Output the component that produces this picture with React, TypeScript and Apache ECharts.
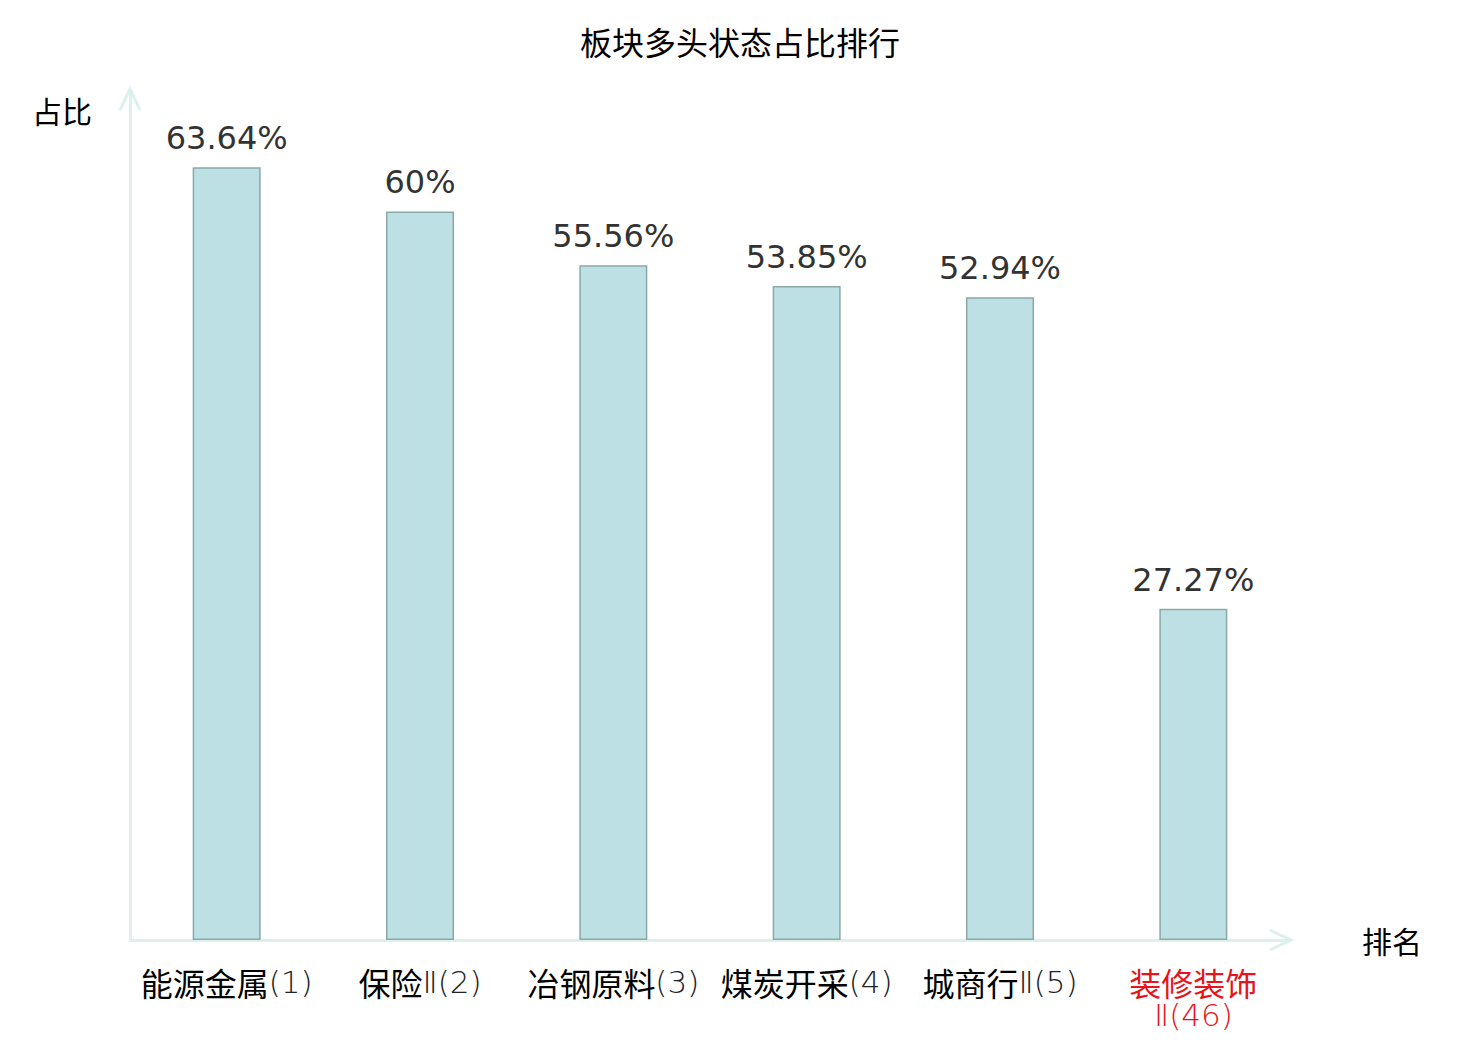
import React, { useEffect, useRef } from "react";
import * as echarts from "echarts";

const categories = ["能源金属(1)", "保险Ⅱ(2)", "冶钢原料(3)", "煤炭开采(4)", "城商行Ⅱ(5)", "装修装饰Ⅱ(46)"];
const values = [63.64, 60, 55.56, 53.85, 52.94, 27.27];
const highlighted = ["装修装饰Ⅱ(46)"];

const FONT = "'DejaVu Sans', 'Noto Sans CJK SC', sans-serif";
const CJK = "'Noto Sans CJK SC', sans-serif";
const AXIS_COLOR = "#dcf1ee";
const RED = "#e8141b";

export default function App() {
  const ref = useRef<HTMLDivElement>(null);
  useEffect(() => {
    if (!ref.current) return;
    const chart = echarts.init(ref.current, null, { renderer: "svg" });
    const gridLeft = 130;
    const gridRight = 190;
    const gridTop = 90;
    const gridBottom = 100;
    const W = 1480;
    const H = 1040;
    const x0 = gridLeft;
    const x1 = W - gridRight;
    const yb = H - gridBottom;
    const labelFormatter = (v: string) => {
      const m = v.match(/^([\u4e00-\u9fff]+)(.*)$/);
      const red = highlighted.includes(v);
      const cs = red ? "cr" : "c";
      const ds = red ? "dr" : "d";
      if (!m) return `{${cs}|${v}}`;
      const sep = v.length > 8 ? "\n" : "";
      return `{${cs}|${m[1]}}${sep}{${ds}|${m[2]}}`;
    };
    chart.setOption({
      animation: false,
      backgroundColor: "#ffffff",
      title: {
        text: "板块多头状态占比排行",
        left: "center",
        top: 20,
        textStyle: { fontSize: 32, fontWeight: "normal", color: "#000", fontFamily: CJK },
      },
      grid: { left: gridLeft, right: gridRight, top: gridTop, bottom: gridBottom, containLabel: false },
      xAxis: {
        type: "category",
        data: categories,
        name: "排名",
        nameLocation: "end",
        nameGap: 72,
        nameTextStyle: { fontSize: 30, color: "#000", fontFamily: CJK, verticalAlign: "middle" },
        axisLine: { show: true, lineStyle: { color: AXIS_COLOR, width: 3 } },
        axisTick: { show: false },
        axisLabel: {
          fontSize: 32,
          color: "#000",
          fontFamily: CJK,
          margin: 25,
          lineHeight: 33,
          interval: 0,
          formatter: labelFormatter,
          rich: {
            c: { fontSize: 32, lineHeight: 33, color: "#000", fontFamily: CJK },
            d: { fontSize: 31, lineHeight: 33, color: "#222", fontFamily: "'DejaVu Sans'", fontWeight: 200 },
            cr: { fontSize: 32, lineHeight: 33, color: RED, fontFamily: CJK },
            dr: { fontSize: 31, lineHeight: 33, color: RED, fontFamily: "'DejaVu Sans'", fontWeight: 200 },
          },
        },
      },
      yAxis: {
        type: "value",
        min: 0,
        max: 70,
        axisLine: { show: true, lineStyle: { color: AXIS_COLOR, width: 3 } },
        axisTick: { show: false },
        axisLabel: { show: false },
        splitLine: { show: false },
      },
      series: [
        {
          type: "bar",
          data: values,
          barWidth: 68,
          itemStyle: { color: "#bce0e3", borderColor: "#8aa9a8", borderWidth: 1.5 },
          label: {
            show: true,
            position: "top",
            distance: 13,
            fontSize: 32,
            color: "#333",
            fontFamily: FONT,
            formatter: (p: any) => `${p.value}%`,
          },
        },
      ],
      graphic: [
        {
          type: "polyline",
          shape: { points: [[x0 - 10, gridTop + 20], [x0, gridTop - 1], [x0 + 10, gridTop + 20]] },
          style: { stroke: AXIS_COLOR, lineWidth: 3, fill: "none" },
          z: 10,
        },
        {
          type: "polyline",
          shape: { points: [[x1 - 20, yb - 10], [x1 + 1, yb], [x1 - 20, yb + 10]] },
          style: { stroke: AXIS_COLOR, lineWidth: 3, fill: "none" },
          z: 10,
        },
        {
          type: "text",
          x: 92,
          y: 110,
          style: {
            text: "占比",
            fontSize: 30,
            fill: "#000",
            fontFamily: CJK,
            align: "right",
            verticalAlign: "middle",
          },
        },
      ],
    });
    return () => chart.dispose();
  }, []);
  return <div ref={ref} style={{ width: 1480, height: 1040, position: "absolute", left: 0, top: 0 }} />;
}
